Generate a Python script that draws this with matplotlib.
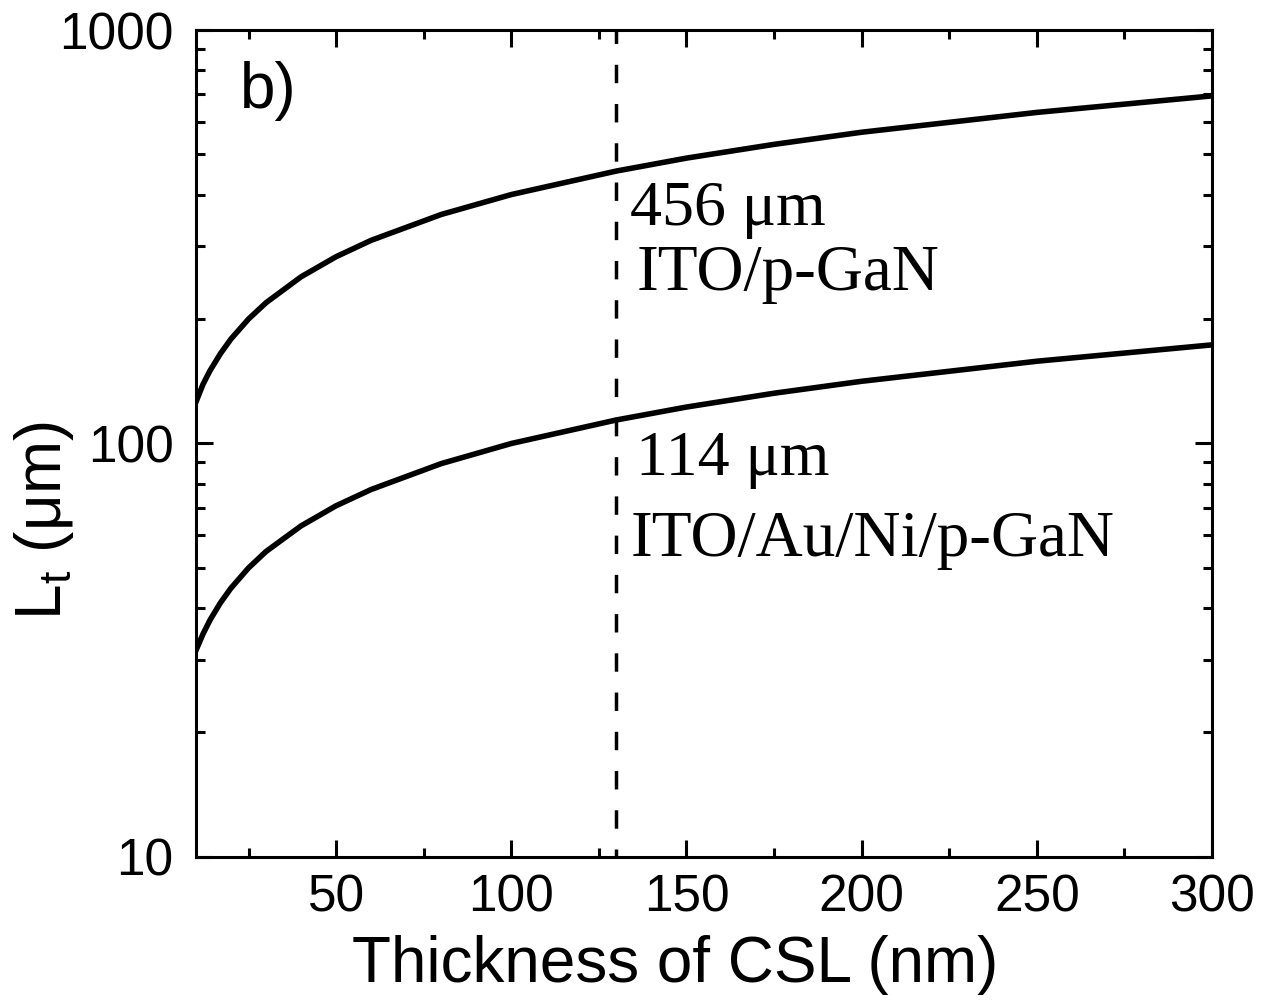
import numpy as np
import matplotlib
matplotlib.use("Agg")
import matplotlib.pyplot as plt
from matplotlib.ticker import FixedLocator, LogLocator, NullFormatter

# data
thickness = [10, 12, 14, 17, 20, 25, 30, 40, 50, 60, 80, 100, 130, 150, 175, 200, 250, 300]
lt_ito = [126, 139, 150, 165, 179, 200, 219, 253, 283, 310, 358, 400, 456, 490, 529, 566, 632, 693]
lt_itoauni = [31.6, 34.6, 37.4, 41.2, 44.7, 50.0, 54.8, 63.2, 70.7, 77.4, 89.4, 100, 114, 122.5, 132.3, 141.4, 158.1, 173.2]
csl_mark = 130
xticks = [50, 100, 150, 200, 250, 300]
yticks = [10, 100, 1000]

plt.rcParams['font.family'] = ['Liberation Sans', 'DejaVu Sans']
plt.rcParams['mathtext.fontset'] = 'custom'
plt.rcParams['mathtext.rm'] = 'Liberation Sans'
plt.rcParams['mathtext.it'] = 'Liberation Sans'

fig = plt.figure(figsize=(12.7, 10.01), dpi=100)
ax = fig.add_axes([0.1543, 0.1439, 0.8, 0.8261])

ax.plot(thickness, lt_ito, color='black', lw=4.0)
ax.plot(thickness, lt_itoauni, color='black', lw=4.0)
ax.axvline(csl_mark, color='black', lw=2.5, ls=(3, (5.3, 6.0)))

ax.set_yscale('log')
ax.set_xlim(10, 300)
ax.set_ylim(10, 1000)
ax.xaxis.set_major_locator(FixedLocator(xticks))
ax.xaxis.set_minor_locator(FixedLocator([25, 75, 125, 175, 225, 275]))
ax.yaxis.set_major_locator(FixedLocator(yticks))
ax.yaxis.set_minor_locator(LogLocator(base=10, subs=np.arange(2, 10)))
ax.yaxis.set_minor_formatter(NullFormatter())
ax.set_yticklabels(['10', '100', '1000'])

for s in ax.spines.values():
    s.set_linewidth(2.2)
ax.tick_params(which='both', direction='in', top=True, right=True, width=2.2, labelsize=37)
ax.tick_params(which='major', length=12)
ax.tick_params(which='minor', length=6.5)
ax.tick_params(axis='y', pad=16)
ax.tick_params(axis='x', pad=12)

ax.set_xlabel('Thickness of CSL (nm)', fontsize=46)
ax.xaxis.set_label_coords(0.472, -0.094)
ax.set_ylabel(r'$\mathregular{L_t}$ (μm)', fontsize=46)
ax.yaxis.set_label_coords(-0.118, 0.406)

ax.text(0.043, 0.906, 'b)', transform=ax.transAxes, fontsize=46, va='baseline')

serif = ['Liberation Serif', 'DejaVu Serif']
ax.text(134, 337, '456 μm', family=serif, fontsize=46, va='baseline')
ax.text(135.7, 235, 'ITO/p-GaN', family=serif, fontsize=47, va='baseline')
ax.text(135.7, 84, '114 μm', family=serif, fontsize=46, va='baseline')
ax.text(134, 53.5, 'ITO/Au/Ni/p-GaN', family=serif, fontsize=47, va='baseline')

fig.savefig('out.png', dpi=100)
